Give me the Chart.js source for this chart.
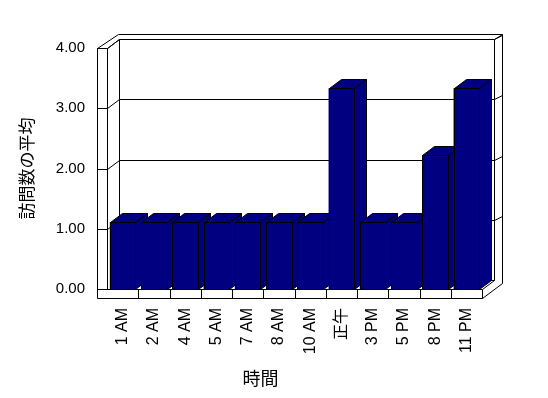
<!DOCTYPE html>
<html>
<head>
<meta charset="utf-8">
<script src="https://cdn.jsdelivr.net/npm/chart.js@4"></script>
<style>
  html, body { margin: 0; padding: 0; background: #fff; }
</style>
</head>
<body>
<canvas id="chart" width="548" height="398"></canvas>
<script>
// chart data
const categories = ["1 AM", "2 AM", "4 AM", "5 AM", "7 AM", "8 AM", "10 AM", "正午", "3 PM", "5 PM", "8 PM", "11 PM"];
const avgVisits = [1.11, 1.11, 1.11, 1.11, 1.11, 1.11, 1.11, 3.33, 1.11, 1.11, 2.22, 3.33];
const yTickValues = [0, 1, 2, 3, 4];
const yTitle = "訪問数の平均";
const xTitle = "時間";

// 3d look
const DX = 12, DY = -9;     // depth of the plot box
const WALL = 10;            // thickness of left wall / floor
const NAVY = "#000080";

const latin = '"Liberation Sans", Arial, "Noto Sans CJK JP", sans-serif';
const cjk = '"Noto Sans CJK JP", "Liberation Sans", sans-serif';

const px = v => Math.round(v) + 0.5;

function path(ctx, pts) {
  ctx.beginPath();
  pts.forEach((p, i) => i ? ctx.lineTo(px(p[0]), px(p[1])) : ctx.moveTo(px(p[0]), px(p[1])));
}
function line(ctx, pts) { path(ctx, pts); ctx.stroke(); }
function face(ctx, pts, color) {
  path(ctx, pts);
  ctx.closePath();
  ctx.fillStyle = color;
  ctx.fill();
  ctx.stroke();
}

const boxPlugin = {
  id: "box3d",
  beforeDatasetsDraw(chart) {
    const ctx = chart.ctx;
    const xs = chart.scales.x, ys = chart.scales.y;
    const L = chart.chartArea.left, R = chart.chartArea.right;
    const T = ys.getPixelForValue(ys.max), B = ys.getPixelForValue(0);
    const Lb = L + DX, Rb = R + DX, Tb = T + DY, Bb = B + DY;
    const Lo = L - WALL, Bf = B + WALL - 1;
    ctx.save();
    ctx.strokeStyle = "#000";
    ctx.lineWidth = 1;

    // back wall
    line(ctx, [[Lb, Bb], [Lb, Tb], [Rb, Tb], [Rb, Bb]]);
    // back wall thickness
    line(ctx, [[Lb - 1, Tb - 5], [Rb + 8, Tb - 5], [Rb + 8, Bf - 15], [R, Bf]]);
    line(ctx, [[Rb, Tb], [Rb + 8, Tb - 5]]);
    // left wall
    line(ctx, [[Lo, Bf], [Lo, T], [L, T], [L, B]]);
    line(ctx, [[Lo, T], [Lb - 1, Tb - 5]]);
    line(ctx, [[L, T], [Lb, Tb]]);
    // floor
    line(ctx, [[Lo, B], [R, B], [Rb, Bb]]);
    line(ctx, [[Lo, Bf], [R, Bf], [R, B]]);
    line(ctx, [[Lb, Bb], [Rb, Bb]]);
    // category dividers on the floor edge
    const n = categories.length;
    for (let i = 1; i < n; i++) {
      const x = (xs.getPixelForTick(i - 1) + xs.getPixelForTick(i)) / 2;
      line(ctx, [[x, B], [x, Bf]]);
    }
    // gridlines
    yTickValues.forEach(v => {
      if (v === 0) return;
      const y = ys.getPixelForValue(v);
      line(ctx, [[Lo, y], [L, y], [Lb, y + DY], [Rb, y + DY], [Rb + 8, y + DY - 4]]);
    });
    ctx.restore();
  },
  afterDatasetsDraw(chart) {
    const ctx = chart.ctx;
    const bars = chart.getDatasetMeta(0).data;
    ctx.save();
    ctx.strokeStyle = "#000";
    ctx.lineWidth = 1;
    bars.forEach(bar => {
      const p = bar.getProps(["x", "y", "base", "width"], true);
      const xl = p.x - p.width / 2, xr = p.x + p.width / 2;
      const yt = p.y, yb = p.base;
      face(ctx, [[xr, yt], [xr + DX, yt + DY], [xr + DX, yb + DY], [xr, yb]], NAVY);
      face(ctx, [[xl, yt], [xl + DX, yt + DY], [xr + DX, yt + DY], [xr, yt]], NAVY);
      face(ctx, [[xl, yt], [xr, yt], [xr, yb], [xl, yb]], NAVY);
    });
    ctx.restore();
  },
  afterDraw(chart) {
    const ctx = chart.ctx;
    const {left, right} = chart.chartArea;
    ctx.save();
    ctx.fillStyle = "#000";
    ctx.font = "18px " + cjk;
    ctx.textAlign = "center";
    ctx.textBaseline = "middle";
    ctx.fillText(xTitle, (left + right) / 2 - 34, chart.height - 20);
    ctx.restore();
  }
};

new Chart(document.getElementById("chart"), {
  type: "bar",
  data: {
    labels: categories,
    datasets: [{
      data: avgVisits,
      backgroundColor: NAVY,
      borderColor: "#000",
      borderWidth: 0,
      barPercentage: 0.82,
      categoryPercentage: 1.0
    }]
  },
  options: {
    responsive: false,
    animation: false,
    layout: { padding: { top: 48, right: 66, bottom: 0, left: 0 } },
    plugins: {
      legend: { display: false },
      tooltip: { enabled: false }
    },
    scales: {
      x: {
        grid: { display: false, drawTicks: false },
        border: { display: false },
        ticks: {
          autoSkip: false,
          maxRotation: 90,
          minRotation: 90,
          padding: 19,
          color: "#000",
          font: { family: latin, size: 16 }
        },
        afterFit(scale) { scale.height = 109; }
      },
      y: {
        min: 0,
        max: 4,
        grid: { display: false, drawTicks: false },
        border: { display: false },
        ticks: {
          stepSize: 1,
          padding: 22,
          color: "#000",
          font: { family: latin, size: 15 },
          callback: v => v.toFixed(2)
        },
        title: {
          display: true,
          text: yTitle,
          color: "#000",
          padding: { top: 16, bottom: 0 },
          font: { family: cjk, size: 17 }
        },
        afterFit(scale) { scale.width = 107; }
      }
    }
  },
  plugins: [boxPlugin]
});
</script>
</body>
</html>
